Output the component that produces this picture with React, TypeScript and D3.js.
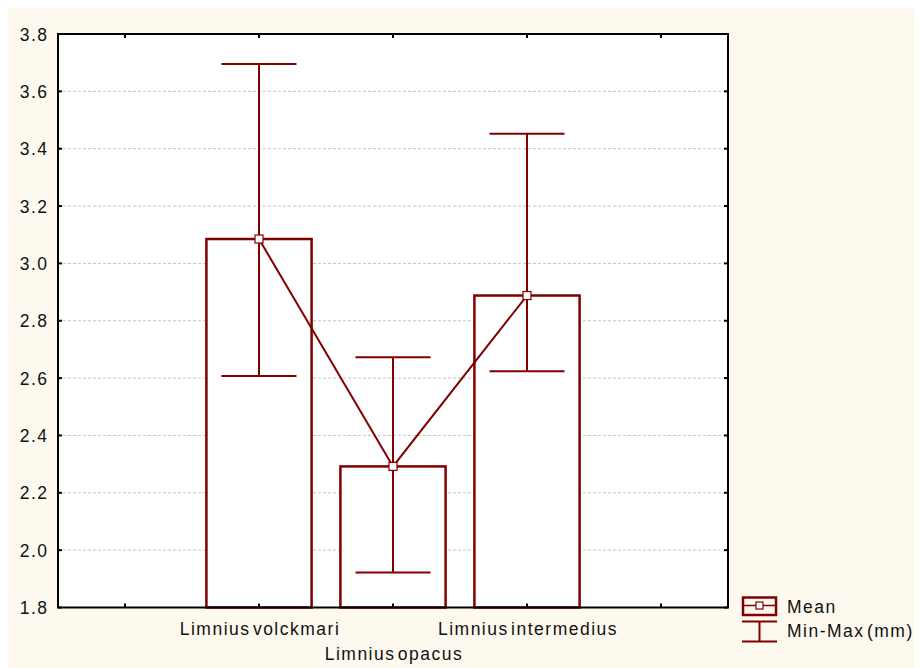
import React from "react";
import * as d3 from "d3";

const slots = ["pad0", "Limnius volckmari", "Limnius opacus", "Limnius intermedius", "pad1"];
const categories = ["Limnius volckmari", "Limnius opacus", "Limnius intermedius"];
const means = [3.085, 2.292, 2.888];
const mins = [2.607, 1.922, 2.624];
const maxs = [3.695, 2.673, 3.452];
const yTicks = [1.8, 2.0, 2.2, 2.4, 2.6, 2.8, 3.0, 3.2, 3.4, 3.6, 3.8];
const legendLabels = ["Mean", "Min-Max (mm)"];

const RED = "#800000";
const BG = "#fef9ef";
const FONT = "'Liberation Sans', Arial, sans-serif";

export default function App() {
  const left = 58, right = 728, top = 34, bottom = 607.5;
  const x = d3.scaleBand<string>().domain(slots).range([left, right]).padding(0);
  const y = d3.scaleLinear().domain([1.8, 3.8]).range([bottom, top]);
  const bw = x.bandwidth();
  const barW = bw * 0.785;
  const capW = bw * 0.56;
  const cx = (c: string) => (x(c) as number) + bw / 2;
  const line = d3
    .line<number>()
    .x((_, i) => cx(categories[i]))
    .y((d) => y(d));
  const txt = { fontFamily: FONT, fontSize: 17.5, letterSpacing: 1.5, wordSpacing: -4, fill: "#111" } as any;

  return (
    <svg width={915} height={660} style={{ display: "block" }}>
      <g transform="translate(-8,-8)">
        <rect x={8} y={8} width={915} height={660} fill={BG} />
        <rect x={left} y={top} width={right - left} height={bottom - top} fill="#fff" />
        {yTicks.slice(1, -1).map((t) => (
          <line key={t} x1={left} x2={right} y1={y(t)} y2={y(t)} stroke="#c4c4c4" strokeWidth={1} strokeDasharray="3,2" />
        ))}
        {/* bars */}
        {categories.map((c, i) => (
          <rect key={c} x={cx(c) - barW / 2} y={y(means[i])} width={barW} height={y(1.8) - y(means[i])} fill="#fff" stroke={RED} strokeWidth={2.5} />
        ))}
        {/* whiskers */}
        {categories.map((c, i) => (
          <g key={c} stroke={RED} strokeWidth={2}>
            <line x1={cx(c)} x2={cx(c)} y1={y(maxs[i])} y2={y(mins[i])} />
            <line x1={cx(c) - capW / 2} x2={cx(c) + capW / 2} y1={y(maxs[i])} y2={y(maxs[i])} />
            <line x1={cx(c) - capW / 2} x2={cx(c) + capW / 2} y1={y(mins[i])} y2={y(mins[i])} />
          </g>
        ))}
        <path d={line(means) as string} fill="none" stroke={RED} strokeWidth={2} />
        {categories.map((c, i) => (
          <rect key={c} x={cx(c) - 4} y={y(means[i]) - 4} width={8} height={8} fill="#fff" stroke={RED} strokeWidth={1.2} />
        ))}
        {/* frame */}
        <rect x={left} y={top} width={right - left} height={bottom - top} fill="none" stroke="#000" strokeWidth={2} />
        {/* y ticks */}
        {yTicks.map((t) => (
          <g key={t}>
            <line x1={left} x2={left + 4} y1={y(t)} y2={y(t)} stroke="#000" strokeWidth={2} />
            <line x1={right - 4} x2={right} y1={y(t)} y2={y(t)} stroke="#000" strokeWidth={2} />
            <text x={48.5} y={y(t) + 6.5} textAnchor="end" {...txt}>
              {t.toFixed(1)}
            </text>
          </g>
        ))}
        {/* x ticks */}
        {slots.map((s) => (
          <g key={s}>
            <line x1={cx(s)} x2={cx(s)} y1={bottom} y2={bottom - 4} stroke="#000" strokeWidth={2} />
            <line x1={cx(s)} x2={cx(s)} y1={top} y2={top + 4} stroke="#000" strokeWidth={2} />
          </g>
        ))}
        {categories.map((c, i) => (
          <text key={c} x={cx(c) + 1} y={i === 1 ? 660 : 635} textAnchor="middle" {...txt}>
            {c}
          </text>
        ))}
        {/* legend */}
        <g stroke={RED} fill="none">
          <rect x={743} y={597.5} width={33} height={17.5} strokeWidth={2.5} />
          <line x1={743} x2={776} y1={605.5} y2={605.5} strokeWidth={1.5} />
          <rect x={756} y={602} width={7} height={7} fill="#fff" strokeWidth={1.2} />
          <line x1={742} x2={777} y1={621.5} y2={621.5} strokeWidth={2} />
          <line x1={742} x2={777} y1={641.5} y2={641.5} strokeWidth={2} />
          <line x1={759.5} x2={759.5} y1={621.5} y2={641.5} strokeWidth={2} />
        </g>
        <text x={787} y={613} {...txt}>{legendLabels[0]}</text>
        <text x={787} y={637} {...txt}>{legendLabels[1]}</text>
      </g>
    </svg>
  );
}
